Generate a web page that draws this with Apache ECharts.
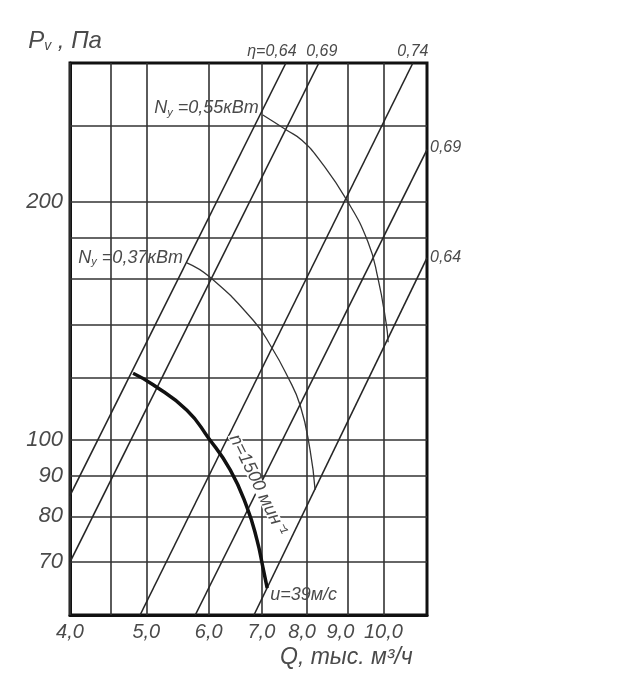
<!DOCTYPE html>
<html>
<head>
<meta charset="utf-8">
<script src="https://cdn.jsdelivr.net/npm/echarts@6/dist/echarts.min.js"></script>
<style>
  html, body { margin: 0; padding: 0; background: #fff; }
  #chart { width: 625px; height: 700px; }
</style>
</head>
<body>
<div id="chart"></div>
<script>
// ---------- axis ranges & ticks ----------
const qRange = [4, 11.36];
const pRange = [60, 300];
const qGrid = [4, 4.5, 5, 6, 7, 8, 9, 10];
const qTicks = [4, 5, 6, 7, 8, 9, 10];
const qTickText = ['4,0', '5,0', '6,0', '7,0', '8,0', '9,0', '10,0'];
const pGrid = [70, 80, 90, 100, 120, 140, 160, 180, 200, 250];
const pTicks = [70, 80, 90, 100, 200];
const pTickText = ['70', '80', '90', '100', '200'];

// ---------- efficiency lines (Q, P) ----------
const etaNames = ['η=0,64', '0,69', '0,74', '0,69', '0,64'];
const eta064L = [[4.0, 85], [7.52, 300]];
const eta069L = [[4.0, 70], [8.28, 300]];
const eta074 = [[4.91, 60], [10.9, 300]];
const eta069R = [[5.77, 60], [11.36, 233]];
const eta064R = [[6.85, 60], [11.36, 170]];

// ---------- power curves ----------
const powerN055 = [[7.03, 257.8], [7.54, 246.6], [7.88, 239.5], [8.30, 226], [8.99, 201], [9.56, 178], [9.84, 160.3], [10.08, 140.6], [10.14, 132.9]];
const powerN037 = [[5.63, 167.5], [6.02, 160.7], [6.83, 141.8], [7.22, 130.7], [7.54, 120.8], [7.84, 110.6], [8.07, 97.1], [8.19, 86.4]];
// ---------- fan curve n = 1500 ----------
const speedN1500 = [[4.81, 121.4], [5.10, 117.4], [5.63, 109.0], [5.99, 100.7], [6.39, 91.6], [6.71, 82.2], [6.91, 74.7], [7.03, 69.0], [7.12, 64.9]];

const FONT = '"Liberation Sans", Arial, sans-serif';
const TXT = '#4a4a4a';
const LINE = '#262626';

const chart = echarts.init(document.getElementById('chart'), null, { renderer: 'canvas' });

function txt(size) {
  return { fontFamily: FONT, fontStyle: 'italic', fontSize: size, color: TXT };
}

// small horizontal nudges of the hand-lettered x labels (style only)
function qLabelNudge(q) {
  return q === 8 ? -5 : q === 9 ? -7 : 0;
}

// grid lines as mark lines
const gridMarks = [];
qGrid.forEach(q => {
  const i = qTicks.indexOf(q);
  gridMarks.push({
    xAxis: q,
    label: i >= 0 ? Object.assign({ show: true, position: 'start', distance: 7, offset: [qLabelNudge(q), 0], formatter: qTickText[i] }, txt(20)) : { show: false }
  });
});
pGrid.forEach(p => {
  const i = pTicks.indexOf(p);
  gridMarks.push({
    yAxis: p,
    label: i >= 0 ? Object.assign({ show: true, position: 'start', distance: 7, formatter: pTickText[i] }, txt(22)) : { show: false }
  });
});

function etaSeries(data, name, labelPos, offset) {
  return {
    type: 'line',
    data: data.map((d, k) => k === data.length - 1 ? {
      value: d,
      label: Object.assign({ show: true, position: labelPos, distance: 3, offset: offset, formatter: name }, txt(16))
    } : { value: d }),
    showSymbol: true, symbol: 'circle', symbolSize: 0,
    lineStyle: { color: LINE, width: 1.6 },
    itemStyle: { color: LINE },
    label: { show: false },
    silent: true
  };
}

const nRich = {
  n: { fontFamily: FONT, fontStyle: 'italic', fontSize: 18, color: TXT },
  s: { fontFamily: FONT, fontStyle: 'italic', fontSize: 11, color: TXT, padding: [9, 0, 0, 0] }
};

function powerSeries(data, text, offset) {
  return {
    type: 'line',
    smooth: 0.5,
    data: data.map((d, k) => k === 0 ? {
      value: d,
      label: { show: true, position: 'left', distance: 4, offset: offset, formatter: text, rich: nRich }
    } : { value: d }),
    showSymbol: true, symbol: 'circle', symbolSize: 0,
    lineStyle: { color: '#333', width: 1.3 },
    itemStyle: { color: '#333' },
    label: { show: false },
    silent: true
  };
}

const option = {
  animation: false,
  backgroundColor: '#fff',
  grid: { left: 70, right: 198, top: 63, bottom: 85, show: true, borderColor: '#111', borderWidth: 3, backgroundColor: 'transparent' },
  xAxis: {
    type: 'log', logBase: 10, min: qRange[0], max: qRange[1],
    axisLine: { show: true, lineStyle: { color: '#111', width: 3 } },
    axisTick: { show: false }, axisLabel: { show: false }, splitLine: { show: false }
  },
  yAxis: {
    type: 'log', logBase: 10, min: pRange[0], max: pRange[1],
    name: '{p|P}{v|v}{p| , Па}',
    nameLocation: 'end', nameGap: 10,
    nameTextStyle: {
      align: 'center', padding: [0, 10, 0, 0],
      rich: {
        p: { fontFamily: FONT, fontStyle: 'italic', fontSize: 24, color: TXT },
        v: { fontFamily: FONT, fontStyle: 'italic', fontSize: 14, color: TXT, padding: [10, 0, 0, 0] }
      }
    },
    axisLine: { show: true, lineStyle: { color: '#111', width: 3 } },
    axisTick: { show: false }, axisLabel: { show: false }, splitLine: { show: false }
  },
  graphic: [{
    type: 'text', left: 280, top: 646,
    style: { text: 'Q, тыс. м³/ч', font: 'italic 23px ' + FONT, fill: TXT }
  }],
  series: [
    {
      type: 'line', data: [], silent: true,
      markLine: {
        silent: true, symbol: ['none', 'none'], z: 1,
        lineStyle: { color: '#333', width: 1.6, type: 'solid' },
        label: { show: false },
        emphasis: { disabled: true },
        data: gridMarks
      }
    },
    etaSeries(eta064L, etaNames[0], 'top', [-14, 0]),
    etaSeries(eta069L, etaNames[1], 'top', [3, 0]),
    etaSeries(eta074, etaNames[2], 'top', [0, 0]),
    etaSeries(eta069R, etaNames[3], 'right', [0, -2]),
    etaSeries(eta064R, etaNames[4], 'right', [0, 0]),
    powerSeries(powerN055, '{n|N}{s|y}{n| =0,55кВт}', [0, -7]),
    powerSeries(powerN037, '{n|N}{s|y}{n| =0,37кВт}', [0, -5]),
    {
      type: 'line',
      smooth: 0.5,
      data: speedN1500.map((d, k) => {
        if (k === 5) {
          return {
            value: d,
            label: Object.assign({
              show: true, position: [11, -22], rotate: -64, align: 'center', verticalAlign: 'middle',
              formatter: 'n=1500 мин⁻¹', backgroundColor: '#fff', padding: [0, 2], lineHeight: 12
            }, txt(18))
          };
        }
        if (k === speedN1500.length - 1) {
          return {
            value: d,
            label: Object.assign({ show: true, position: 'right', distance: 3, offset: [0, 7], formatter: 'u=39м/с' }, txt(18))
          };
        }
        return { value: d };
      }),
      showSymbol: true, symbol: 'circle', symbolSize: 0,
      lineStyle: { color: '#111', width: 3.5 },
      itemStyle: { color: '#111' },
      label: { show: false },
      silent: true
    }
  ]
};

chart.setOption(option);
</script>
</body>
</html>
